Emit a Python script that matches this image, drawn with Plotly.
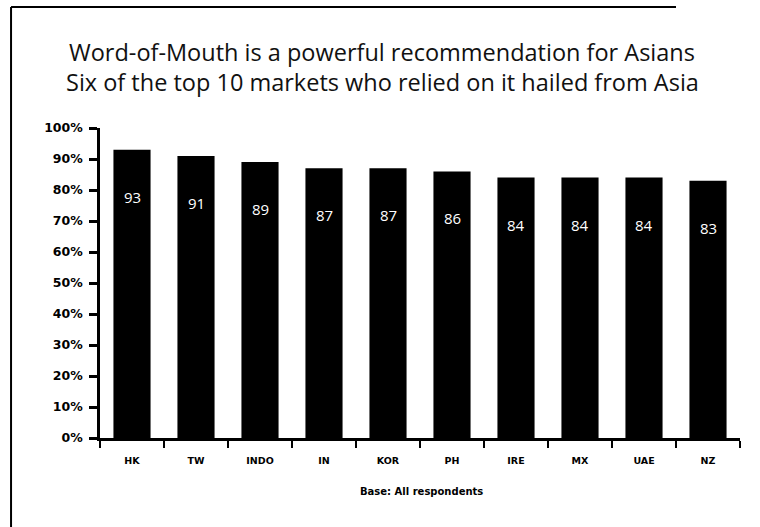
import plotly.graph_objects as go

categories = ["HK", "TW", "INDO", "IN", "KOR", "PH", "IRE", "MX", "UAE", "NZ"]
values = [93, 91, 89, 87, 87, 86, 84, 84, 84, 83]
y_ticks = list(range(0, 101, 10))
y_tick_labels = [f"{v}%" for v in y_ticks]
title_lines = [
    "Word-of-Mouth is a powerful recommendation for Asians",
    "Six of the top 10 markets who relied on it hailed from Asia",
]
base_note = "Base: All respondents"

fig = go.Figure()
fig.add_trace(go.Bar(
    x=categories, y=values,
    marker=dict(color="black", line=dict(width=0)),
    hoverinfo="x+y",
))

annotations = []
for c, v in zip(categories, values):
    annotations.append(dict(
        x=c, y=v, xref="x", yref="y", text=str(v), showarrow=False,
        yshift=-47, font=dict(family="Open Sans", size=15, color="white"),
    ))

annotations.append(dict(
    x=0.441, y=1.245, xref="paper", yref="paper", text=title_lines[0],
    showarrow=False, xanchor="center", yanchor="middle",
    font=dict(family="Open Sans", size=23.5, color="#111"),
))
annotations.append(dict(
    x=0.441, y=1.148, xref="paper", yref="paper", text=title_lines[1],
    showarrow=False, xanchor="center", yanchor="middle",
    font=dict(family="Open Sans", size=23.5, color="#111"),
))
annotations.append(dict(
    x=0.502, y=-0.174, xref="paper", yref="paper", text=base_note,
    showarrow=False, xanchor="center", yanchor="middle",
    font=dict(family="DejaVu Sans", size=10, color="black", weight="bold"),
))

shapes = [
    dict(type="line", xref="paper", yref="paper", x0=-0.139, x1=-0.139,
         y0=1.390, y1=-0.3, line=dict(color="black", width=2)),
    dict(type="line", xref="paper", yref="paper", x0=-0.139, x1=0.9,
         y0=1.390, y1=1.390, line=dict(color="black", width=2)),
]

fig.update_layout(
    width=760, height=527,
    margin=dict(l=100, r=20, t=128, b=89),
    paper_bgcolor="white", plot_bgcolor="white",
    bargap=0.42, showlegend=False,
    annotations=annotations, shapes=shapes,
)
fig.update_xaxes(
    showline=True, linecolor="black", linewidth=2.5,
    ticks="outside", tickson="boundaries", ticklen=7, tickwidth=2, tickcolor="black",
    ticklabelstandoff=12,
    tickfont=dict(family="DejaVu Sans", size=9.5, color="black", weight="bold"),
    showgrid=False,
)
fig.update_yaxes(
    range=[0, 100], tickvals=y_ticks, ticktext=y_tick_labels,
    showline=True, linecolor="black", linewidth=2.5,
    ticks="outside", ticklen=8, tickwidth=2.5, tickcolor="black",
    ticklabelstandoff=4,
    tickfont=dict(family="DejaVu Sans", size=12.5, color="black", weight="bold"),
    showgrid=False, zeroline=False,
)

fig.write_html(
    "out.html",
    config={"displayModeBar": False},
    post_script="document.body.style.margin='0';document.body.style.overflow='hidden';",
)
